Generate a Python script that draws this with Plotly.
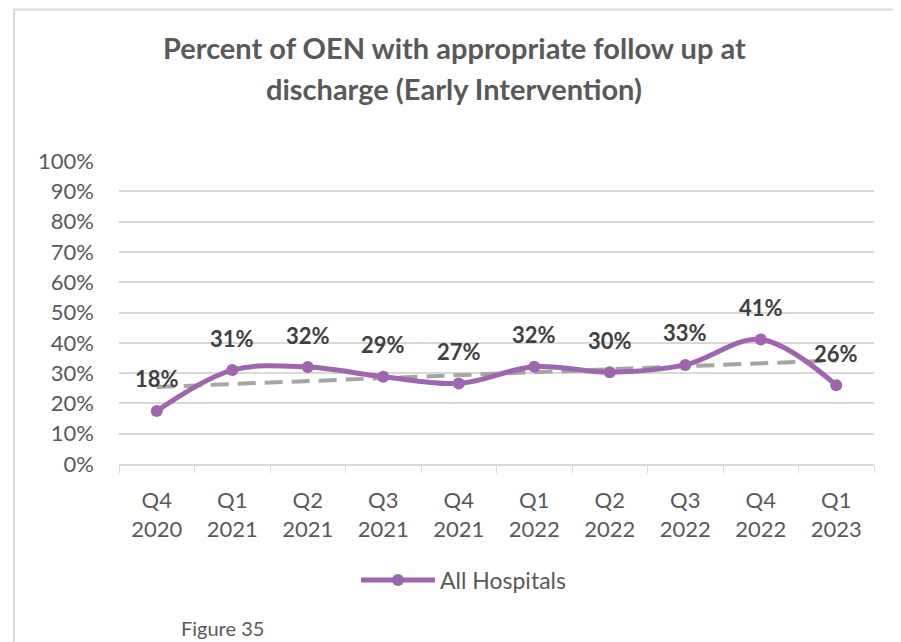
import numpy as np
import plotly.graph_objects as go

categories = ["Q4<br>2020", "Q1<br>2021", "Q2<br>2021", "Q3<br>2021", "Q4<br>2021",
              "Q1<br>2022", "Q2<br>2022", "Q3<br>2022", "Q4<br>2022", "Q1<br>2023"]
all_hospitals = [0.175, 0.31, 0.32, 0.288, 0.266, 0.321, 0.303, 0.327, 0.411, 0.26]
y_ticks = [0, 0.1, 0.2, 0.3, 0.4, 0.5, 0.6, 0.7, 0.8, 0.9, 1.0]
y_tick_labels = ["0%", "10%", "20%", "30%", "40%", "50%", "60%", "70%", "80%", "90%", "100%"]
title_lines = ["Percent of OEN with appropriate follow up at", "discharge (Early Intervention)"]

FONT = "Lato"
PURPLE = "#9F65AE"
GREY_TXT = "#595959"

# page has an 8px body margin: figure drawn 8px in from the window's corner
OFF = 8
PX0, PX1 = 119, 874      # plot area (window pixels)
PY1, PY0 = 161, 464


def px(xw):
    return (xw - PX0) / (PX1 - PX0)


def py(yw):
    return (PY0 - yw) / (PY0 - PY1)


# linear trendline derived from the series
xi = np.arange(1, len(all_hospitals) + 1)
slope, intercept = np.polyfit(xi, all_hospitals, 1)
trend = (slope * xi + intercept).tolist()

fig = go.Figure()
fig.add_trace(go.Scatter(
    x=categories, y=trend, mode="lines",
    line=dict(color="#A5A5A5", width=4, dash="18px,9px"),
    showlegend=False, hoverinfo="skip"))
fig.add_trace(go.Scatter(
    x=categories, y=all_hospitals, mode="lines+markers", name="All Hospitals",
    line=dict(color=PURPLE, width=5, shape="spline", smoothing=1.0),
    marker=dict(color=PURPLE, size=12)))

for c, v in zip(categories, all_hospitals):
    fig.add_annotation(x=c, y=v, text="<b>%d%%</b>" % round(v * 100),
                       showarrow=False, yshift=32,
                       font=dict(family=FONT, size=22, color="#404040"))

for line, yw in zip(title_lines, [47, 88]):
    fig.add_annotation(xref="paper", yref="paper", x=px(454), y=py(yw),
                       xanchor="center", yanchor="middle", showarrow=False,
                       text="<b>%s</b>" % line,
                       font=dict(family=FONT, size=29, color=GREY_TXT))

fig.add_annotation(xref="paper", yref="paper", x=px(179), y=py(628),
                   xanchor="left", yanchor="middle", text="Figure 35", showarrow=False,
                   font=dict(family=FONT, size=20, color=GREY_TXT))

# chart border
fig.add_shape(type="rect", xref="paper", yref="paper",
              x0=px(14), x1=px(896), y0=py(700), y1=py(9.5),
              line=dict(color="#D9D9D9", width=2), fillcolor="rgba(0,0,0,0)", layer="below")

W, H = 901 - OFF, 642 - OFF
fig.update_layout(
    width=W, height=H,
    margin=dict(l=PX0 - OFF, r=W - (PX1 - OFF), t=PY1 - OFF, b=H - (PY0 - OFF), autoexpand=False),
    paper_bgcolor="white", plot_bgcolor="white",
    legend=dict(orientation="h", x=px(356), xanchor="left",
                y=py(580), yanchor="middle",
                font=dict(family=FONT, size=23, color=GREY_TXT),
                itemwidth=74, bgcolor="rgba(0,0,0,0)"),
    xaxis=dict(type="category", showline=True, linecolor="#D9D9D9", linewidth=1.5,
               ticks="outside", tickson="boundaries", ticklen=7, tickcolor="#D9D9D9",
               showgrid=False, range=[-0.5, len(categories) - 0.5],
               ticklabelstandoff=16,
               tickfont=dict(family=FONT, size=22, color=GREY_TXT)),
    yaxis=dict(range=[0, 1], tickvals=y_ticks, ticktext=y_tick_labels,
               showgrid=True, gridcolor="#D9D9D9", gridwidth=1.5,
               zeroline=False, showline=False, ticks="", ticklabelstandoff=24,
               tickfont=dict(family=FONT, size=22, color=GREY_TXT)),
)

fig.write_html("out.html")
